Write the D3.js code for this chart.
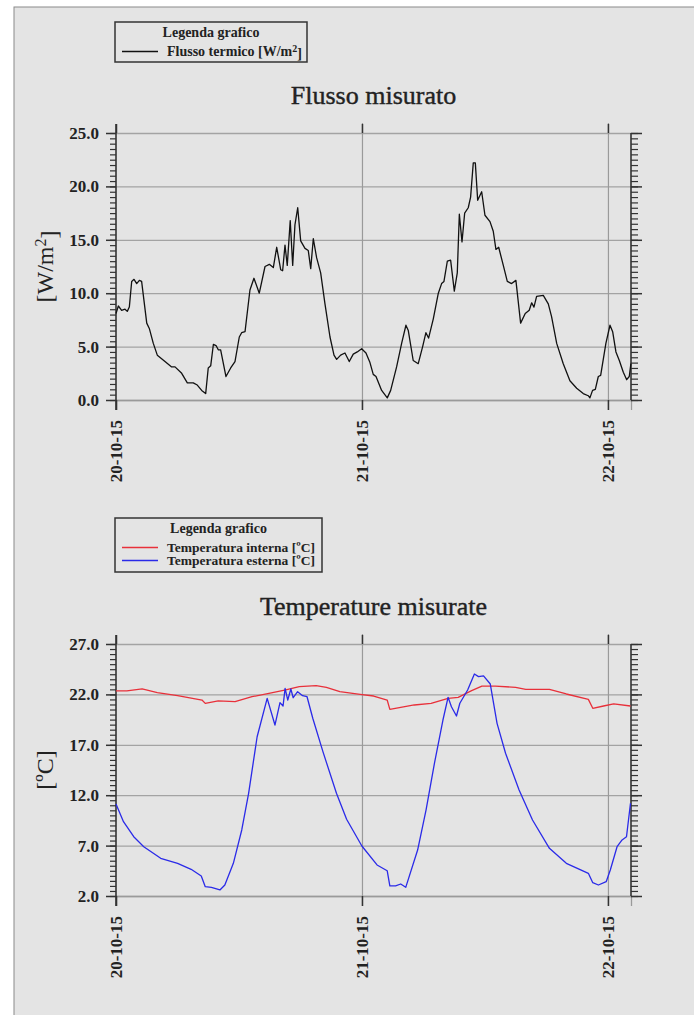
<html>
<head>
<script src="https://d3js.org/d3.v7.min.js"></script>
<style>
  body { margin: 0; background: #fff; }
  text { font-family: "Liberation Serif", "DejaVu Serif", serif; fill: #222; }
</style>
</head>
<body>
<svg id="chart" width="694" height="1015"></svg>
<script>
// ---- data (hours since 20-10-15 00:00) ----
const fluxHours = [0, 0.23, 0.55, 0.88, 1.1, 1.3, 1.53, 1.76, 2.02, 2.28, 2.5, 3.0, 3.25, 3.64, 4.03, 4.78, 5.43, 5.76, 6.41, 6.96, 7.54, 7.93, 8.36, 8.75, 9.0, 9.24, 9.5, 9.76, 9.98, 10.21, 10.73, 11.19, 11.61, 12.03, 12.26, 12.59, 13.07, 13.46, 13.98, 14.54, 14.96, 15.35, 15.68, 16.07, 16.26, 16.49, 16.71, 17.0, 17.24, 17.46, 17.73, 18.02, 18.44, 18.76, 19.0, 19.25, 19.58, 19.97, 20.39, 20.88, 21.27, 21.53, 21.92, 22.34, 22.76, 23.15, 23.54, 23.97, 24.39, 24.78, 25.1, 25.37, 25.92, 26.47, 26.8, 27.38, 27.87, 28.29, 28.52, 29.0, 29.49, 29.92, 30.24, 30.5, 30.96, 31.45, 31.77, 32.0, 32.33, 32.65, 33.01, 33.3, 33.5, 33.76, 34.02, 34.37, 34.6, 34.86, 35.06, 35.29, 35.68, 36.0, 36.49, 36.81, 37.07, 37.34, 37.79, 38.18, 38.6, 39.02, 39.48, 39.93, 40.32, 40.56, 40.78, 41.04, 41.69, 42.18, 42.5, 43.0, 43.64, 44.29, 44.95, 45.59, 46.08, 46.24, 46.5, 46.77, 47.06, 47.29, 47.8, 48.2, 48.46, 48.78, 49.11, 49.5, 49.83, 50.08, 50.24];
const fluxValues = [8.1, 8.8, 8.4, 8.5, 8.3, 8.7, 11.1, 11.3, 10.9, 11.2, 11.1, 7.2, 6.7, 5.3, 4.2, 3.6, 3.1, 3.1, 2.5, 1.6, 1.6, 1.4, 0.9, 0.6, 3.0, 3.2, 5.2, 5.1, 4.7, 4.7, 2.2, 3.0, 3.6, 5.9, 6.3, 6.4, 10.3, 11.4, 10.0, 12.5, 12.7, 12.4, 14.3, 12.2, 12.1, 14.5, 12.6, 16.8, 12.6, 16.4, 18.0, 14.9, 14.2, 14.0, 12.3, 15.1, 13.3, 11.9, 9.0, 5.9, 4.2, 3.8, 4.2, 4.4, 3.6, 4.3, 4.5, 4.8, 4.4, 3.5, 2.4, 2.2, 0.9, 0.2, 0.9, 3.1, 5.3, 7.0, 6.5, 3.7, 3.4, 5.0, 6.3, 5.8, 7.6, 10.0, 10.9, 11.1, 13.0, 13.1, 10.2, 11.9, 17.4, 14.8, 17.5, 18.0, 19.0, 22.2, 22.2, 18.7, 19.5, 17.3, 16.7, 15.8, 14.1, 14.3, 12.6, 11.1, 10.9, 11.2, 7.2, 8.1, 8.4, 9.1, 8.7, 9.7, 9.8, 9.0, 7.8, 5.3, 3.4, 1.8, 1.1, 0.6, 0.4, 0.2, 0.9, 1.0, 2.2, 2.3, 5.3, 7.0, 6.4, 4.5, 3.7, 2.6, 1.9, 2.2, 3.4];

const intHours = [0, 1.06, 2.55, 4.03, 6.01, 8.39, 8.71, 9.97, 11.62, 13.27, 14.92, 16.57, 17.88, 19.53, 20.53, 21.84, 23.82, 25.14, 26.46, 26.72, 27.78, 29.1, 30.75, 32.4, 33.39, 34.7, 35.7, 37.01, 38.99, 39.98, 42.29, 43.94, 46.09, 46.52, 47.57, 48.56, 50.2];
const intValues = [22.34, 22.34, 22.54, 22.17, 21.87, 21.44, 21.11, 21.35, 21.28, 21.77, 22.11, 22.44, 22.77, 22.87, 22.7, 22.27, 22.01, 21.84, 21.44, 20.52, 20.72, 20.95, 21.11, 21.61, 21.71, 22.37, 22.83, 22.83, 22.7, 22.5, 22.5, 22.04, 21.51, 20.62, 20.85, 21.05, 20.85];

const extHours = [0, 0.73, 1.73, 2.71, 4.36, 6.01, 7.33, 8.32, 8.71, 9.31, 10.14, 10.62, 11.45, 12.27, 12.94, 13.77, 14.75, 15.51, 16.0, 16.3, 16.5, 16.76, 17.06, 17.29, 17.72, 18.21, 18.64, 19.2, 20.19, 21.51, 22.5, 23.99, 25.47, 26.46, 26.72, 27.28, 27.78, 28.27, 29.43, 30.25, 31.07, 31.9, 32.4, 32.73, 33.22, 33.55, 34.31, 34.97, 35.37, 35.86, 36.52, 37.18, 38.01, 39.33, 40.64, 42.29, 43.94, 46.09, 46.52, 47.07, 47.83, 48.23, 48.89, 49.38, 49.81, 50.2];
const extValues = [11.13, 9.37, 7.88, 6.89, 5.74, 5.24, 4.65, 3.98, 2.92, 2.86, 2.6, 3.09, 5.24, 8.55, 12.19, 17.8, 21.61, 18.96, 21.18, 20.85, 22.6, 21.44, 22.54, 21.67, 22.27, 21.87, 21.77, 19.63, 16.32, 12.19, 9.61, 6.96, 5.08, 4.51, 3.0, 3.0, 3.19, 2.86, 6.56, 10.53, 15.16, 19.46, 21.71, 20.78, 19.86, 21.12, 22.44, 24.02, 23.76, 23.83, 23.03, 19.13, 16.16, 12.52, 9.54, 6.73, 5.24, 4.25, 3.32, 3.09, 3.42, 4.58, 6.89, 7.56, 7.88, 11.2];

const dayTicks = ["2015-10-20", "2015-10-21", "2015-10-22"];
const fluxTicks = [0, 5, 10, 15, 20, 25];
const tempTicks = [2, 7, 12, 17, 22, 27];

const startDate = new Date(2015, 9, 20);
const toDate = h => new Date(startDate.getTime() + h * 3600e3);
const endHours = 50.25;

const svg = d3.select("svg#chart");

// grey page panel
svg.append("rect")
   .attr("x", 14).attr("y", 7)
   .attr("width", 700).attr("height", 1020)
   .style("fill", "#e4e4e4")
   .style("stroke", "#8a8a8a")
   .style("stroke-width", 1);

const fmtDay = d3.timeFormat("%d-%m-%y");

function drawChart(cfg) {
  const left = 116, right = 631;
  const x = d3.scaleTime()
              .domain([toDate(0), toDate(endHours)])
              .range([left, right]);
  const y = d3.scaleLinear()
              .domain(cfg.yDomain)
              .range([cfg.bottom, cfg.top]);
  const days = dayTicks.map(s => d3.timeParse("%Y-%m-%d")(s));
  const minor = d3.range(cfg.yDomain[0], cfg.yDomain[1] + 0.01, 0.5);
  const g = svg.append("g");

  // horizontal grid
  g.append("g")
   .attr("transform", "translate(" + left + ",0)")
   .call(d3.axisRight(y).tickValues(cfg.yTicks).tickSize(right - left).tickFormat(""))
   .call(a => a.select(".domain").remove())
   .selectAll("line").style("stroke", "#a3a3a3").style("stroke-width", 1.3);

  // vertical grid (plus ticks above / below)
  g.append("g")
   .attr("transform", "translate(0," + (cfg.bottom + 10) + ")")
   .call(d3.axisTop(x).tickValues(days.slice(1)).tickSize(cfg.bottom - cfg.top + 20).tickFormat(""))
   .call(a => a.select(".domain").remove())
   .selectAll("line").style("stroke", "#9a9a9a").style("stroke-width", 1.2);
  g.append("g")
   .attr("transform", "translate(0," + cfg.top + ")")
   .call(d3.axisTop(x).tickValues(days).tickSize(9).tickFormat(""))
   .call(a => a.select(".domain").remove())
   .selectAll("line").style("stroke", "#333").style("stroke-width", 1.5);

  // bottom axis with rotated date labels
  const xa = g.append("g")
   .attr("transform", "translate(0," + cfg.bottom + ")")
   .call(d3.axisBottom(x).tickValues(days).tickSize(10).tickFormat(fmtDay));
  xa.select(".domain").style("stroke", "#9a9a9a").style("stroke-width", 1.3);
  xa.selectAll("line").style("stroke", "#333").style("stroke-width", 1.5);
  xa.selectAll("text")
    .attr("transform", "rotate(-90)")
    .attr("x", -20).attr("y", 0).attr("dy", "0.35em")
    .attr("text-anchor", "end")
    .style("font-family", "Liberation Serif")
    .style("font-weight", "bold")
    .style("font-size", "17px")
    .style("fill", "#222");

  // left axis
  const ya = g.append("g")
   .attr("transform", "translate(" + left + ",0)")
   .call(d3.axisLeft(y).tickValues(cfg.yTicks).tickSize(10).tickPadding(7).tickFormat(d3.format(".1f")));
  ya.select(".domain").remove();
  ya.selectAll("line").style("stroke", "#333").style("stroke-width", 1.5);
  ya.selectAll("text")
    .style("font-family", "Liberation Serif")
    .style("font-weight", "bold")
    .style("font-size", "17px")
    .style("fill", "#222");
  g.append("g")
   .attr("transform", "translate(" + left + ",0)")
   .call(d3.axisLeft(y).tickValues(minor).tickSize(6).tickFormat(""))
   .call(a => a.select(".domain").remove())
   .selectAll("line").style("stroke", "#333").style("stroke-width", 1.2);
  g.append("line")
   .attr("x1", left).attr("x2", left)
   .attr("y1", cfg.top - 9).attr("y2", cfg.bottom + 10)
   .style("stroke", "#333").style("stroke-width", 1.6);

  // right axis
  const yr = g.append("g")
   .attr("transform", "translate(" + right + ",0)")
   .call(d3.axisRight(y).tickValues(cfg.yTicks).tickSize(11).tickFormat(""));
  yr.select(".domain").remove();
  yr.selectAll("line").style("stroke", "#333").style("stroke-width", 1.5);
  g.append("g")
   .attr("transform", "translate(" + right + ",0)")
   .call(d3.axisRight(y).tickValues(minor).tickSize(7).tickFormat(""))
   .call(a => a.select(".domain").remove())
   .selectAll("line").style("stroke", "#333").style("stroke-width", 1.2);
  g.append("line")
   .attr("x1", right).attr("x2", right)
   .attr("y1", cfg.top).attr("y2", cfg.bottom)
   .style("stroke", "#333").style("stroke-width", 1.6);

  // data lines
  cfg.series.forEach(s => {
    const pts = s.hours.map((h, i) => [toDate(h), s.values[i]]);
    g.append("path")
     .datum(pts)
     .attr("d", d3.line().x(d => x(d[0])).y(d => y(d[1])))
     .style("fill", "none")
     .style("stroke", s.color)
     .style("stroke-width", 1.3)
     .style("stroke-linejoin", "round");
  });

  // title
  g.append("text")
   .attr("x", (left + right) / 2).attr("y", cfg.top - 29)
   .attr("text-anchor", "middle")
   .style("font-size", "26px")
   .style("stroke", "#222").style("stroke-width", 0.4)
   .text(cfg.title);

  // y label
  const yl = g.append("text")
   .attr("transform", "translate(53," + ((cfg.top + cfg.bottom) / 2) + ") rotate(-90)")
   .attr("text-anchor", "middle")
   .style("font-size", "24px");
  cfg.yLabel(yl);

  // legend
  const n = cfg.legendItems.length;
  const lg = g.append("g");
  lg.append("rect")
    .attr("x", 115).attr("y", cfg.legendY)
    .attr("width", cfg.legendW).attr("height", 40 + (n - 1) * 14)
    .style("fill", "none").style("stroke", "#333").style("stroke-width", 1.5);
  lg.append("text")
    .attr("x", 115 + cfg.legendW / 2).attr("y", cfg.legendY + 15)
    .attr("text-anchor", "middle")
    .style("font-size", "14px").style("font-weight", "bold")
    .text("Legenda grafico");
  cfg.legendItems.forEach((it, i) => {
    const ly = cfg.legendY + 34 + i * 13;
    lg.append("line")
      .attr("x1", 122).attr("x2", 158)
      .attr("y1", ly - 4.5).attr("y2", ly - 4.5)
      .style("stroke", it.color).style("stroke-width", 1.3);
    const t = lg.append("text")
      .attr("x", 167).attr("y", ly)
      .style("font-size", n > 1 ? "13.5px" : "14px").style("font-weight", "bold");
    it.label(t);
  });
}

drawChart({
  top: 133, bottom: 400,
  yDomain: [0, 25], yTicks: fluxTicks,
  title: "Flusso misurato",
  series: [{ hours: fluxHours, values: fluxValues, color: "#111" }],
  yLabel: t => {
    t.append("tspan").text("[W/m");
    t.append("tspan").attr("dy", "-0.45em").style("font-size", "16px").text("2");
    t.append("tspan").attr("dy", "0.45em").text("]");
  },
  legendY: 22, legendW: 192,
  legendItems: [{
    color: "#111",
    label: t => {
      t.append("tspan").text("Flusso termico [W/m");
      t.append("tspan").attr("dy", "-0.4em").style("font-size", "10px").text("2");
      t.append("tspan").attr("dy", "0.4em").text("]");
    }
  }]
});

drawChart({
  top: 644, bottom: 896,
  yDomain: [2, 27], yTicks: tempTicks,
  title: "Temperature misurate",
  series: [
    { hours: intHours, values: intValues, color: "#e8303a" },
    { hours: extHours, values: extValues, color: "#2a2ae8" }
  ],
  yLabel: t => t.text("[ºC]"),
  legendY: 518, legendW: 207,
  legendItems: [
    { color: "#e8303a", label: t => t.text("Temperatura interna [ºC]") },
    { color: "#2a2ae8", label: t => t.text("Temperatura esterna [ºC]") }
  ]
});
</script>
</body>
</html>
